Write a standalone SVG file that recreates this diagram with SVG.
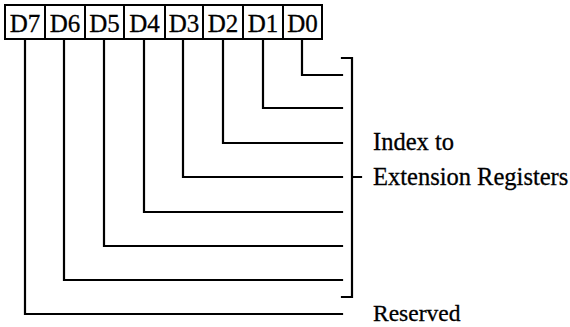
<svg xmlns="http://www.w3.org/2000/svg" width="570" height="327" viewBox="0 0 570 327">
<style>
.box{fill:#fff;stroke:#000;stroke-width:2}
.ln{fill:none;stroke:#000;stroke-width:2.2;stroke-linecap:square}
.t{font-family:"Liberation Serif","Times New Roman",serif;font-size:24.5px;fill:#000;stroke:#000;stroke-width:0.3}
.bl{text-anchor:middle;font-size:25px}
</style>
<rect width="570" height="327" fill="#fff"/>
<g id="bits">
<g id="D7"><rect class="box" x="5" y="5" width="40" height="34"/><text class="t bl" x="25" y="32">D7</text></g>
<g id="D6"><rect class="box" x="45" y="5" width="40" height="34"/><text class="t bl" x="65" y="32">D6</text></g>
<g id="D5"><rect class="box" x="85" y="5" width="39" height="34"/><text class="t bl" x="104.5" y="32">D5</text></g>
<g id="D4"><rect class="box" x="124" y="5" width="41" height="34"/><text class="t bl" x="144.5" y="32">D4</text></g>
<g id="D3"><rect class="box" x="165" y="5" width="38" height="34"/><text class="t bl" x="184" y="32">D3</text></g>
<g id="D2"><rect class="box" x="203" y="5" width="40" height="34"/><text class="t bl" x="223" y="32">D2</text></g>
<g id="D1"><rect class="box" x="243" y="5" width="40" height="34"/><text class="t bl" x="263" y="32">D1</text></g>
<g id="D0"><rect class="box" x="283" y="5" width="39" height="34"/><text class="t bl" x="302.5" y="32">D0</text></g>
</g>
<g id="connectors">
<path class="ln" d="M302 40V75H342"/>
<path class="ln" d="M263 40V108H342"/>
<path class="ln" d="M223 40V143H342"/>
<path class="ln" d="M183 40V177H342"/>
<path class="ln" d="M144 40V212H342"/>
<path class="ln" d="M104 40V246H342"/>
<path class="ln" d="M64 40V280H342"/>
<path class="ln" d="M25 40V314H342"/>
<path class="ln" d="M342 58H352V297H342M352 177H361"/>
</g>
<g id="labels">
<text class="t" x="373" y="150">Index to</text>
<text class="t" x="373" y="185">Extension Registers</text>
<text class="t" x="373" y="321" style="font-size:23.5px">Reserved</text>
</g>
</svg>
